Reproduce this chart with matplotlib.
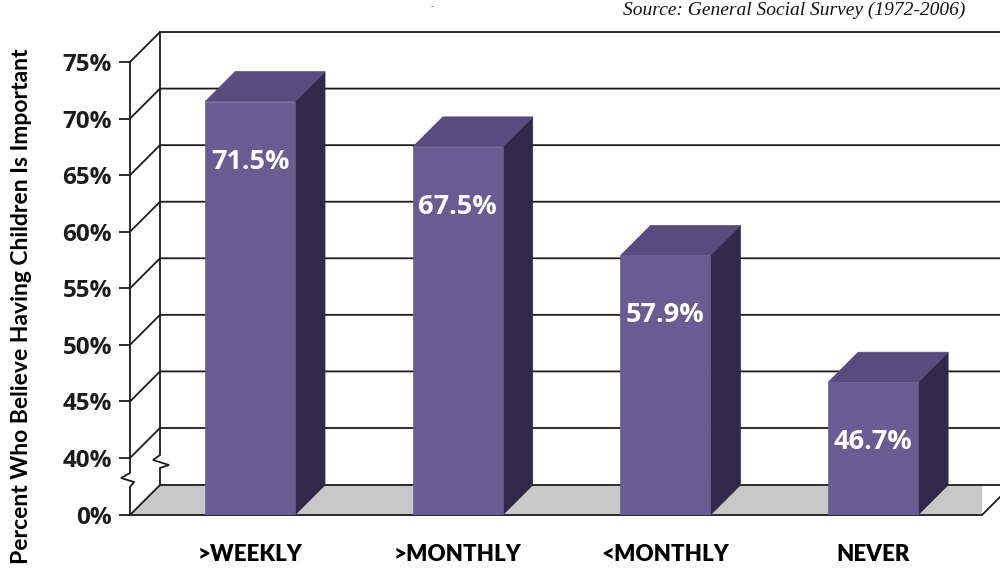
import numpy as np
import matplotlib
matplotlib.use("Agg")
import matplotlib.pyplot as plt
from matplotlib import transforms
from matplotlib.patches import Polygon
from matplotlib.lines import Line2D

# ---- data -------------------------------------------------------------
categories = [">WEEKLY", ">MONTHLY", "<MONTHLY", "NEVER"]
values = [71.5, 67.5, 57.9, 46.7]
value_labels = ["71.5%", "67.5%", "57.9%", "46.7%"]
tick_values = [0, 40, 45, 50, 55, 60, 65, 70, 75]
tick_labels = ["0%", "40%", "45%", "50%", "55%", "60%", "65%", "70%", "75%"]
grid_values = [40, 45, 50, 55, 60, 65, 70, 75]
ylabel_text = "Percent Who Believe Having Children Is Important"
source_text = "Source: General Social Survey (1972-2006)"

# ---- style ------------------------------------------------------------
FRONT = "#695c92"
TOP = "#584c7e"
SIDE = "#31284a"
FLOOR = "#c8c8c8"
INK = "#1c1c1c"
LW = 1.3
DEPTH = 30          # px, oblique depth of the 3-D box
BAR_W = 0.433
BREAK = 40.0        # axis break: 0..40 is squeezed
SQUEEZE = 5.04 / 40.0


def fwd(v):
    v = np.asarray(v, dtype=float)
    return np.where(v >= BREAK, v, BREAK - (BREAK - v) * SQUEEZE)


def inv(u):
    u = np.asarray(u, dtype=float)
    return np.where(u >= BREAK, u, BREAK - (BREAK - u) / SQUEEZE)


fig = plt.figure(figsize=(10, 5.69), dpi=100)
fig.patch.set_facecolor("white")
ax = fig.add_axes([0.130, 0.0949, 0.852, 0.7961])
ax.set_yscale("function", functions=(fwd, inv))
ax.set_ylim(0, 75)
ax.set_xlim(-0.578, 3.524)
ax.patch.set_visible(False)
for s in ax.spines.values():
    s.set_visible(False)

ident = transforms.IdentityTransform()


def P(x, y, back=False):
    """Data point -> display pixels, optionally pushed onto the back wall."""
    px, py = ax.transData.transform((x, y))
    if back:
        px += DEPTH
        py += DEPTH
    return np.array([px, py])


x_left, x_right = ax.get_xlim()

# ---- floor ------------------------------------------------------------
floor = Polygon([P(x_left, 0), P(x_left, 0, True), P(x_right, 0, True),
                 P(x_right, 0)], closed=True, transform=ident,
                facecolor=FLOOR, edgecolor="none", zorder=1)
ax.add_patch(floor)


def seg(pts, z=3, lw=LW):
    pts = np.asarray(pts)
    ax.add_line(Line2D(pts[:, 0], pts[:, 1], transform=ident, color=INK,
                       lw=lw, zorder=z, clip_on=False, solid_joinstyle="miter"))


# floor edges
seg([P(x_left, 0), P(x_right, 0), P(x_right, 0, True)], z=2)
seg([P(x_left, 0, True), P(x_right, 0, True) + [40, 0]], z=2)

# ---- back wall gridlines and diagonals --------------------------------
for g in grid_values:
    seg([P(x_left, g), P(x_left, g, True), P(x_right, g, True) + [40, 0]], z=2)

# back wall vertical with break
b40 = P(x_left, 40, True)
b0 = P(x_left, 0, True)
seg([P(x_left, 75, True), b40, b40 + [0, -27], b40 + [-7, -32], b40 + [9, -37],
     b40 + [0, -40], b0], z=2)
seg([P(x_left, 0), b0], z=2)

# front vertical axis with break
f40 = P(x_left, 40)
f0 = P(x_left, 0)
seg([P(x_left, 75), f40, f40 + [0, -15], f40 + [-9, -20], f40 + [4, -24],
     f40 + [0, -29], f0], z=4)

# ---- bars -------------------------------------------------------------
for i, v in enumerate(values):
    x0, x1 = i - BAR_W / 2, i + BAR_W / 2
    side = Polygon([P(x1, 0), P(x1, v), P(x1, v, True), P(x1, 0, True)],
                   transform=ident, facecolor=SIDE, edgecolor=SIDE, lw=0.5, zorder=5)
    top = Polygon([P(x0, v), P(x1, v), P(x1, v, True), P(x0, v, True)],
                  transform=ident, facecolor=TOP, edgecolor=TOP, lw=0.5, zorder=5)
    ax.add_patch(side)
    ax.add_patch(top)
    ax.bar(i, v, width=BAR_W, bottom=0, color=FRONT, edgecolor=FRONT, lw=0.5,
           zorder=6)
    lab_tr = ax.transData + transforms.ScaledTranslation(0, -0.60, fig.dpi_scale_trans)
    ax.text(i, v, value_labels[i], transform=lab_tr, ha="center", va="center",
            color="white", fontsize=19.5, fontweight="bold",
            family="Open Sans", zorder=7)

# ---- ticks & labels ---------------------------------------------------
ax.set_yticks(tick_values)
ax.set_yticklabels(tick_labels)
ax.yaxis.set_minor_locator(matplotlib.ticker.NullLocator())
ax.tick_params(axis="y", length=8, width=LW, color=INK, pad=5,
               labelsize=17.5, labelcolor=INK)
for t in ax.get_yticklabels():
    t.set_fontfamily("Open Sans")
    t.set_fontweight("bold")

ax.set_xticks(range(len(categories)))
ax.set_xticklabels(categories)
ax.tick_params(axis="x", length=0, pad=21, labelsize=16, labelcolor="black")
for t in ax.get_xticklabels():
    t.set_fontfamily("Lato")
    t.set_fontweight("heavy")

fig.text(0.022, 0.462, ylabel_text, rotation=90, ha="center", va="center",
         fontsize=16.5, fontweight="bold", family="Lato", color="black")

fig.text(0.965, 1 - 15 / 569, source_text, ha="right", va="baseline",
         fontsize=14, style="italic", family="Liberation Serif", color="#111111")
fig.text(0.432, 1 - 9 / 569, "-", ha="center", va="baseline", fontsize=6,
         color="#555555")

fig.savefig("out.png", dpi=100, facecolor="white")
